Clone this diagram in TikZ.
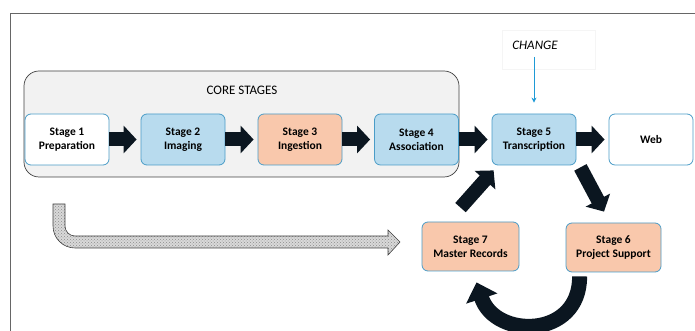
\documentclass[tikz,border=0pt]{standalone}
\usepackage{fontspec}
\setmainfont{Carlito}
\usetikzlibrary{arrows.meta,calc,patterns}
\definecolor{stageblue}{HTML}{4A9CC7}
\definecolor{fillblue}{HTML}{B8DBEE}
\definecolor{fillsalmon}{HTML}{F9C8AC}
\definecolor{coregray}{HTML}{F2F2F2}
\definecolor{arrowblack}{HTML}{0B1620}
\definecolor{changeblue}{HTML}{1E9AD6}

\begin{document}
\begin{tikzpicture}[x=1pt,y=1pt,
    stage/.style={draw=stageblue, line width=0.8pt, rounded corners=6pt,
      minimum width=84pt, minimum height=51pt, align=center,
      font=\bfseries\fontsize{11.5}{14}\selectfont},
    blockarrow/.style={arrowblack, line width=14pt,
      -{Triangle[width=27pt,length=13pt]}}]
\useasboundingbox (0,0) rectangle (695,331);
% frame
\draw[black!60, line width=0.8pt] (10,0) -- (10,318) -- (695,318);
% core stages
\draw[rounded corners=15pt, fill=coregray, draw=black!75, line width=0.7pt] (24,154) rectangle (459,260);
\node[font=\fontsize{13}{15}\selectfont] (core) at (242,241) {CORE STAGES};
% stages
\node[stage, fill=white] (s1) at (67,191.5) {Stage 1\\Preparation};
\node[stage, fill=fillblue] (s2) at (183,191.5) {Stage 2\\Imaging};
\node[stage, fill=fillsalmon] (s3) at (300,191.5) {Stage 3\\Ingestion};
\node[stage, fill=fillblue] (s4) at (416.5,191.5) {Stage 4\\Association};
\node[stage, fill=fillblue] (s5) at (534,191.5) {Stage 5\\Transcription};
\node[stage, fill=white] (web) at (651,191.5) {Web};
\node[stage, fill=fillsalmon, minimum width=97pt, minimum height=49pt] (s7) at (470.5,84.5) {Stage 7\\Master Records};
\node[stage, fill=fillsalmon, minimum width=95pt, minimum height=49pt] (s6) at (613.5,83.5) {Stage 6\\Project Support};
% change
\node[draw=black!4, minimum width=93pt, minimum height=39pt] (chgbox) at (548.5,281.5) {};
\node[font=\itshape\fontsize{13}{15}\selectfont] (chg) at (535,286) {CHANGE};
\draw[changeblue, line width=0.8pt, -{Stealth[length=5pt,width=5pt]}, shorten <=4pt, shorten >=11pt] (chg.south -| s5.north) -- (s5.north);
% flow arrows
\foreach \a/\b in {s1/s2,s2/s3,s3/s4,s4/s5,s5/web}
  \draw[blockarrow] (\a.east) -- ([xshift=-4pt]\b.west);
\draw[blockarrow] ($(s7.north)+(-10,14)$) -- ($(s5.south west)+(2,-5)$);
\draw[blockarrow] ($(s5.south east)+(4,-2)$) -- ($(s6.north)+(-9.5,11)$);
\draw[arrowblack, line width=15pt, -{Triangle[width=32pt,length=17pt]}]
  ($(s6.south west)+(14,-4)$) .. controls (580,-8) and (495,-8) .. ($(s7.south)+(6,-11)$);
% hatched arrow
\draw[black!75, line width=0.6pt, preaction={fill=gray!30}, pattern=crosshatch dots, pattern color=gray!90]
  (53,127) -- (65,127) -- (65,105) arc[start angle=180, end angle=270, radius=10]
  -- (388,95) -- (388,101) -- (400,89) -- (388,76) -- (388,83) -- (75,83)
  arc[start angle=270, end angle=180, radius=22] -- cycle;
\end{tikzpicture}
\end{document}
